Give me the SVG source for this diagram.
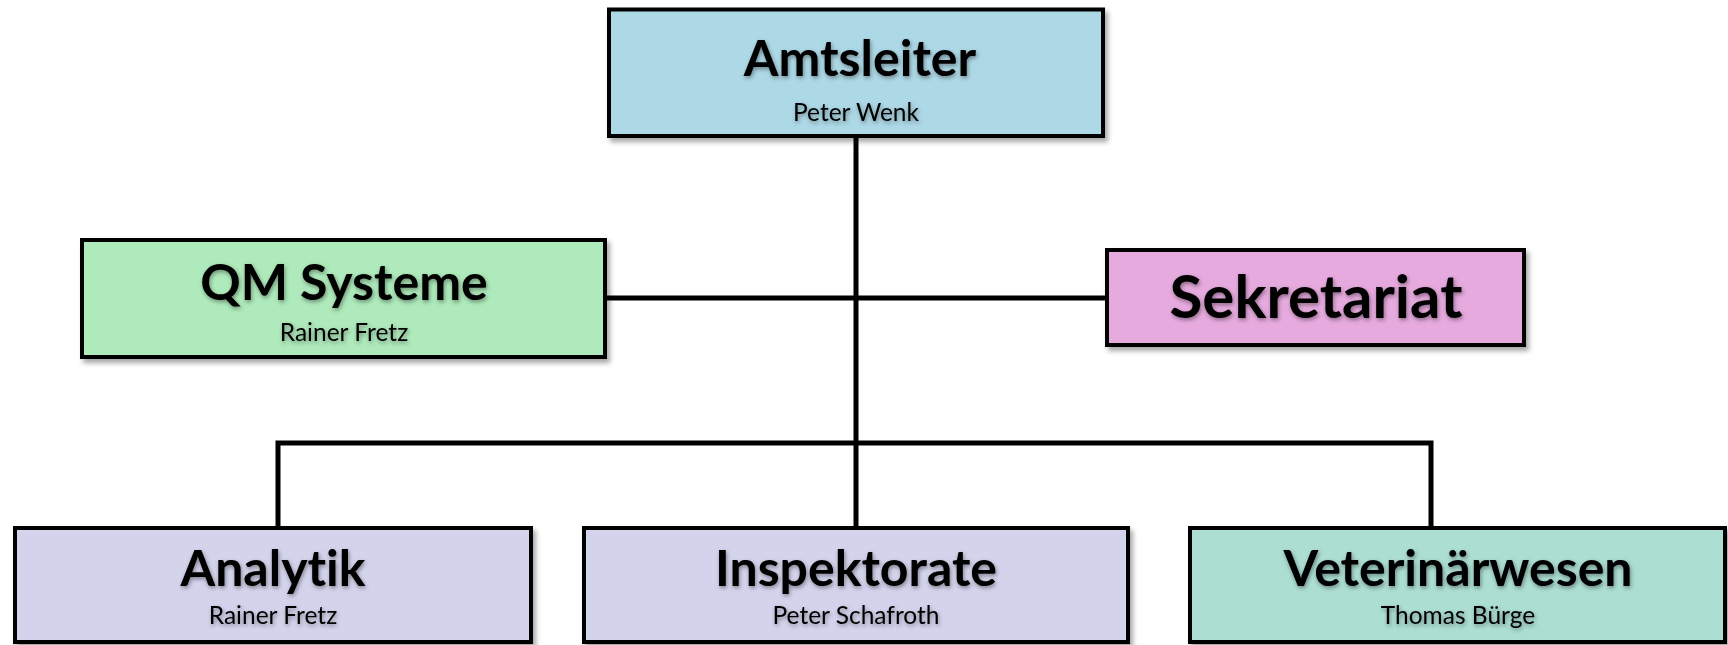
<svg xmlns="http://www.w3.org/2000/svg" width="1728" height="645" viewBox="0 0 1728 645">
<defs>
<filter id="boxsh" x="-5%" y="-10%" width="115%" height="130%">
<feDropShadow dx="3" dy="4" stdDeviation="2.5" flood-color="#000" flood-opacity="0.35"/>
</filter>
<filter id="txtsh" x="-10%" y="-30%" width="120%" height="170%">
<feDropShadow dx="1" dy="2" stdDeviation="2" flood-color="#000" flood-opacity="0.4"/>
</filter>
</defs>
<style>
.box{stroke:#000;stroke-width:4;filter:url(#boxsh)}
.t{font-family:Lato,"Liberation Sans",sans-serif;font-weight:bold;font-size:50px;fill:#000;text-anchor:middle;filter:url(#txtsh);font-variant-ligatures:none}
.big{font-size:60px}
.s{font-family:Lato,"Liberation Sans",sans-serif;font-size:24.5px;fill:#000;text-anchor:middle;filter:url(#txtsh);font-variant-ligatures:none}
.c{stroke:#000;stroke-width:5;fill:none}
</style>
<rect width="1728" height="645" fill="#fff"/>
<g id="connectors">
<line class="c" x1="856" y1="136" x2="856" y2="528"/>
<line class="c" x1="605" y1="298" x2="1107" y2="298"/>
<polyline class="c" points="278,528 278,443 1431,443 1431,528"/>
</g>
<g id="amtsleiter">
<rect class="box" x="609" y="9.5" width="494" height="126.5" fill="#add8e6"/>
<text class="t" x="860" y="76">Amtsleiter</text>
<text class="s" x="856" y="121">Peter Wenk</text>
</g>
<g id="qm">
<rect class="box" x="82" y="240" width="523" height="117" fill="#aeeabb"/>
<text class="t" x="344" y="300">QM Systeme</text>
<text class="s" x="344" y="341">Rainer Fretz</text>
</g>
<g id="sekretariat">
<rect class="box" x="1107" y="250" width="417" height="95" fill="#e6aade"/>
<text class="t big" x="1316" y="318">Sekretariat</text>
</g>
<g id="analytik">
<rect class="box" x="15" y="528" width="516" height="114" fill="#d3d3ec"/>
<text class="t" x="273" y="586">Analytik</text>
<text class="s" x="273" y="624">Rainer Fretz</text>
</g>
<g id="inspektorate">
<rect class="box" x="584" y="528" width="544" height="114" fill="#d3d3ec"/>
<text class="t" x="856" y="586">Inspektorate</text>
<text class="s" x="856" y="624">Peter Schafroth</text>
</g>
<g id="veterinaerwesen">
<rect class="box" x="1190" y="528" width="535" height="114" fill="#acded2"/>
<text class="t" x="1458" y="586">Veterinärwesen</text>
<text class="s" x="1458" y="624">Thomas Bürge</text>
</g>
</svg>
